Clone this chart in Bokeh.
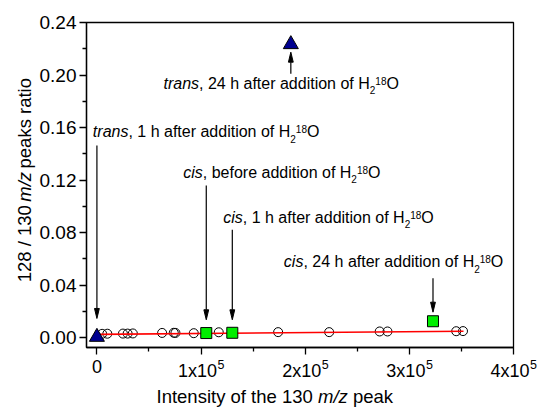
import math
from bokeh.plotting import figure
from bokeh.layouts import column, row
from bokeh.models import Label, FixedTicker, Range1d, CustomLabelingPolicy
from bokeh.embed import file_html
from bokeh.resources import INLINE

# ---------------- data ----------------
circle_x = [5000, 10000, 25000, 29500, 34500, 62600, 73800, 75400, 93000, 117000,
            174000, 223000, 271500, 279000, 345000, 351500]
circle_y = [0.0029, 0.0030, 0.0031, 0.0031, 0.0032, 0.0036, 0.0037, 0.0036, 0.0034, 0.0041,
            0.0042, 0.0042, 0.0047, 0.0047, 0.0049, 0.0050]

square_x = [105000, 130000, 322700]          # cis: before, 1 h, 24 h
square_y = [0.0035, 0.0037, 0.0125]

triangle_x = [0, 186200]                     # trans: 1 h, 24 h
triangle_y = [0.0005, 0.2234]

fit_x = [0, 352000]
fit_y = [0.0025, 0.0049]

x_tick_values = [0, 100000, 200000, 300000, 400000]
x_tick_mantissa = ["0", "1", "2", "3", "4"]
x_minor = [50000, 150000, 250000, 350000]
y_tick_values = [0.0, 0.04, 0.08, 0.12, 0.16, 0.20, 0.24]
y_tick_labels = ["0.00", "0.04", "0.08", "0.12", "0.16", "0.20", "0.24"]
y_minor = [0.02, 0.06, 0.10, 0.14, 0.18, 0.22]

# annotation texts: (italic word, rest, text start x, text baseline y)
ann_texts = [
    ("trans", ", 1 h after addition of H", -3900, 0.1527),
    ("cis", ", before addition of H", 82900, 0.1217),
    ("cis", ", 1 h after addition of H", 121300, 0.0875),
    ("cis", ", 24 h after addition of H", 179500, 0.0537),
    ("trans", ", 24 h after addition of H", 63900, 0.1895),
]
# arrows: (x of pointed mark, y start, y tip)
ann_arrows = [
    (triangle_x[0], 0.1463, 0.0146),
    (square_x[0], 0.1159, 0.0136),
    (square_x[1], 0.0821, 0.0136),
    (square_x[2], 0.0453, 0.0194),
    (triangle_x[1], 0.2009, 0.2174),
]

# ---------------- layout ----------------
FONT = "Liberation Sans"
XMIN, XMAX = -10000, 400000
YMIN, YMAX = -0.0075, 0.24
WIDTH, HEIGHT = 539, 407
YT_W = 36                 # strip holding the y-axis title
BL, BR, BT, BB = 86, 26, 22, 8
FRAME_BOTTOM = 347
P_H = FRAME_BOTTOM + BB   # height of main figure
FW = WIDTH - BL - BR
FH = FRAME_BOTTOM - BT
KX = FW / (XMAX - XMIN)
KY = FH / (YMAX - YMIN)
BASE_FIX = 0.35           # raise texts so that their alphabetic baseline sits on the anchor
MID = 0.3465              # middle of the text box above the baseline, in em

AW = {' ': 278, ',': 278, '/': 278, '.': 278, 'a': 556, 'b': 556, 'c': 500, 'd': 556,
      'e': 556, 'f': 278, 'h': 556, 'i': 222, 'k': 500, 'm': 833, 'n': 556, 'o': 556,
      'p': 556, 'r': 333, 's': 500, 't': 278, 'x': 500, 'y': 500, 'z': 500, 'H': 722,
      'I': 278, 'O': 778}


def tw(s, size):
    return sum(AW.get(c, 556) for c in s) / 1000.0 * size


def lab(fig, x, y, text, size, style="normal", align="left", angle=0.0, xo=0.0, yo=0.0,
        baseline="alphabetic"):
    fig.add_layout(Label(x=x, y=y, x_offset=xo, y_offset=yo, text=text, angle=angle,
                         text_font=FONT, text_font_size=f"{size}px", text_font_style=style,
                         text_color="black", text_align=align, text_baseline=baseline))


def chain(fig, x, y, pieces, size, vertical=False, reversed_y=False):
    """Pieces of one line of text, each placed after the previous one.
    For the vertical title the first piece is end-anchored, the middle one centred and
    the last one start-anchored, so that the gaps around the middle piece are kept."""
    off = 0.0
    n = len(pieces)
    for k, (txt, st) in enumerate(pieces):
        lead = len(txt) - len(txt.lstrip(" "))
        off += tw(" " * lead, size)
        core = txt.strip(" ")
        w = tw(core, size)
        if vertical:
            if k == 0:
                pos, al = off + w, "right"
            elif k == n - 1:
                pos, al = off, "left"
            else:
                pos, al = off + w / 2, "center"
            lab(fig, x - MID * size, y - pos, core, size, style=st,
                angle=math.pi / 2, align=al, baseline="middle")
        else:
            yy = y - BASE_FIX * size if reversed_y else y
            lab(fig, x, yy, core, size, style=st, xo=off)
        off += tw(txt.lstrip(" "), size)


p = figure(width=WIDTH - YT_W, height=P_H, x_range=(XMIN, XMAX), y_range=(YMIN, YMAX),
           output_backend="svg", toolbar_location=None,
           min_border_left=BL - YT_W, min_border_right=BR, min_border_top=BT,
           min_border_bottom=BB)
p.grid.visible = False
p.outline_line_color = "black"
p.outline_line_width = 1.3
p.background_fill_color = "white"
p.border_fill_color = "white"

xa = p.xaxis[0]
xa.ticker = FixedTicker(ticks=x_tick_values, minor_ticks=x_minor)
xa.major_label_text_font_size = "0px"
xa.major_label_standoff = 0
xa.major_label_policy = CustomLabelingPolicy(code="""
    const all = [];
    for (const i of indices) all.push(i);
    for (const i of all) indices.unset(i);
    return indices;
""")
ya = p.yaxis[0]
ya.ticker = FixedTicker(ticks=y_tick_values, minor_ticks=y_minor)
ya.major_label_overrides = {v: t for v, t in zip(y_tick_values, y_tick_labels)}
ya.major_label_text_font_size = "19px"
ya.major_label_standoff = 3
ya.major_label_text_font = FONT
ya.major_label_text_color = "black"
for ax in (xa, ya):
    ax.axis_line_width = 1.3
    ax.axis_line_color = "black"
    ax.major_tick_line_width = 1.3
    ax.minor_tick_line_width = 1.3
    ax.major_tick_line_color = "black"
    ax.minor_tick_line_color = "black"
    ax.major_tick_in = 0
    ax.major_tick_out = 7
    ax.minor_tick_in = 0
    ax.minor_tick_out = 4

# ---------------- marks ----------------
p.scatter(circle_x, circle_y, marker="circle", size=9, fill_color=None,
          line_color="black", line_width=1)
p.line(fit_x, fit_y, line_color="red", line_width=1.6)
p.scatter(square_x, square_y, marker="square", size=11, fill_color="#00ee00",
          line_color="black", line_width=1)
p.scatter(triangle_x, triangle_y, marker="triangle", size=15, fill_color="#000090",
          line_color="black", line_width=1)

# arrows
HL, HW = 10, 2.4
seg_x0, seg_y0, seg_x1, seg_y1, hx, hy = [], [], [], [], [], []
for ax_, y0, y1 in ann_arrows:
    d = 1 if y1 > y0 else -1
    base = y1 - d * HL / KY
    seg_x0.append(ax_); seg_y0.append(y0); seg_x1.append(ax_); seg_y1.append(base)
    hx.append([ax_ - HW / KX, ax_ + HW / KX, ax_])
    hy.append([base, base, y1])
p.segment(seg_x0, seg_y0, seg_x1, seg_y1, line_color="black", line_width=1.2)
p.patches(hx, hy, fill_color="black", line_color="black", line_width=1)

# annotation texts
AS, SS = 16, 10
for it, rest, tx, ty in ann_texts:
    off = 0.0
    pieces = [(it, AS, "italic", 0), (rest, AS, "normal", 0), ("2", SS, "normal", -5),
              ("18", SS, "normal", 4.5), ("O", AS, "normal", 0)]
    for txt, sz, st, dy in pieces:
        lab(p, tx, ty, txt, sz, style=st, xo=off, yo=dy + BASE_FIX * sz)
        off += tw(txt, sz)

# ---------------- strip below: x tick labels and x title ----------------
xs = figure(width=WIDTH, height=HEIGHT - P_H, output_backend="svg", toolbar_location=None,
            x_range=Range1d(XMIN - BL / KX, XMAX + BR / KX),
            y_range=Range1d(HEIGHT, P_H),          # canvas pixel rows, top-down
            x_axis_location=None, y_axis_location=None,
            min_border=0, min_border_left=0, min_border_right=0,
            min_border_top=0, min_border_bottom=0)
xs.outline_line_color = None
xs.grid.visible = False
xs.background_fill_color = "white"
xs.border_fill_color = "white"

TS, ES = 18, 12.5
for v, m in zip(x_tick_values, x_tick_mantissa):
    if m == "0":
        lab(xs, v, 372.7 - BASE_FIX * TS, "0", TS, align="center")
    else:
        main = f"{m}x10"
        total = tw(main, TS) + tw("5", ES)
        right = -total / 2 + tw(main, TS)
        lab(xs, v, 376.7 - BASE_FIX * TS, main, TS, align="right", xo=right)
        lab(xs, v, 368.3 - BASE_FIX * ES, "5", ES, xo=right + 0.5)

LS = 18.5
chain(xs, XMIN - (BL - 156) / KX, 402.8,
      [("Intensity of the 130 ", "normal"), ("m/z", "italic"), (" peak", "normal")],
      LS, reversed_y=True)

# ---------------- strip left: y title ----------------
ys = figure(width=YT_W, height=P_H, output_backend="svg", toolbar_location=None,
            x_range=Range1d(0, YT_W), y_range=Range1d(P_H, 0),
            x_axis_location=None, y_axis_location=None,
            min_border=0, min_border_left=0, min_border_right=0,
            min_border_top=0, min_border_bottom=0)
ys.outline_line_color = None
ys.grid.visible = False
ys.background_fill_color = "white"
ys.border_fill_color = "white"
chain(ys, 30, 276.7,
      [("128 / 130 ", "normal"), ("m/z", "italic"), (" peaks ratio", "normal")],
      LS, vertical=True)

layout = column(row(ys, p, spacing=0), xs, spacing=0)
open("out.html", "w").write(file_html(layout, INLINE))
